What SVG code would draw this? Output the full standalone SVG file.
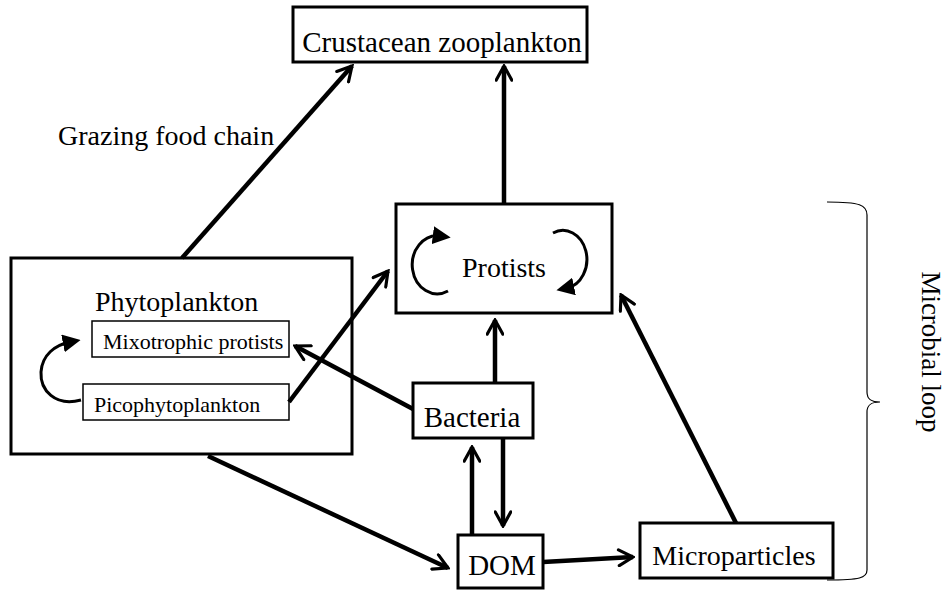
<svg xmlns="http://www.w3.org/2000/svg" width="949" height="591" viewBox="0 0 949 591">
<style>
.box{fill:#fff;stroke:#000;stroke-width:3}
.sbox{fill:#fff;stroke:#000;stroke-width:1.5}
.t{font-family:"Liberation Serif","Times New Roman",serif;fill:#000}
.c{fill:none;stroke:#000;stroke-width:4.5;stroke-linecap:butt}
.loop{fill:none;stroke:#000;stroke-width:3}
.brace{fill:none;stroke:#000;stroke-width:1.2}
</style>
<defs>
<marker id="ah" viewBox="0 0 12 12" refX="10.5" refY="6" markerWidth="4.2" markerHeight="4.2" orient="auto" markerUnits="strokeWidth">
<path d="M1.5,1 L10.5,6 L1.5,11" fill="none" stroke="#000" stroke-width="2" stroke-linecap="round" stroke-linejoin="miter"/>
</marker>
<marker id="tri" viewBox="0 0 10 10" refX="4" refY="5" markerWidth="18" markerHeight="18" orient="auto" markerUnits="userSpaceOnUse">
<path d="M0,0 L10,5 L0,10 Z" fill="#000"/>
</marker>
</defs>

<g id="crustacean">
<rect class="box" x="293" y="7" width="294" height="55"/>
<text class="t" x="442" y="52" font-size="29" text-anchor="middle">Crustacean zooplankton</text>
</g>

<g id="grazing-label">
<text class="t" x="58" y="145" font-size="28">Grazing food chain</text>
</g>

<g id="protists">
<rect class="box" x="396" y="204" width="216" height="109"/>
<text class="t" x="504" y="277" font-size="28" text-anchor="middle">Protists</text>
<path class="loop" d="M448,291 A25,29 0 1 1 440,236" marker-end="url(#tri)"/>
<path class="loop" d="M553,233 A24,29 0 1 1 567,288" marker-end="url(#tri)"/>
</g>

<g id="phytoplankton">
<rect class="box" x="11" y="258" width="341" height="196"/>
<text class="t" x="95" y="311" font-size="28">Phytoplankton</text>
<g id="mixotrophic">
<rect class="sbox" x="92" y="321" width="197" height="36"/>
<text class="t" x="103" y="349" font-size="22">Mixotrophic protists</text>
</g>
<g id="picophytoplankton">
<rect class="sbox" x="83" y="384" width="206" height="36"/>
<text class="t" x="94" y="412" font-size="22">Picophytoplankton</text>
</g>
<path class="loop" d="M81,400 C55,407 40,390 41,372 C42,355 55,345 70,342" marker-end="url(#tri)"/>
</g>

<g id="bacteria">
<rect class="box" x="413" y="383" width="120" height="55"/>
<text class="t" x="472" y="427" font-size="29" text-anchor="middle">Bacteria</text>
</g>

<g id="dom">
<rect class="box" x="458" y="535" width="85" height="53"/>
<text class="t" x="502" y="575" font-size="29" text-anchor="middle">DOM</text>
</g>

<g id="microparticles">
<rect class="box" x="640" y="523" width="193" height="55"/>
<text class="t" x="734" y="565" font-size="28" text-anchor="middle">Microparticles</text>
</g>

<g id="microbial-loop">
<path class="brace" d="M827,202 C860,202 867,205 867,215 L867,392 C867,400 872,402 880,402 C872,402 867,404 867,412 L867,570 C867,578 860,580 827,580"/>
<text class="t" x="352" y="-922" font-size="27" text-anchor="middle" transform="rotate(90)">Microbial loop</text>
</g>

<g id="connectors">
<line class="c" x1="182" y1="258" x2="352" y2="66" marker-end="url(#ah)"/>
<line class="c" x1="504" y1="204" x2="504" y2="66" marker-end="url(#ah)"/>
<line class="c" x1="289" y1="402" x2="388" y2="271" marker-end="url(#ah)"/>
<line class="c" x1="413" y1="409" x2="295" y2="346" marker-end="url(#ah)"/>
<line class="c" x1="495" y1="383" x2="495" y2="320" marker-end="url(#ah)"/>
<line class="c" x1="503" y1="438" x2="503" y2="526" marker-end="url(#ah)"/>
<line class="c" x1="472" y1="535" x2="472" y2="447" marker-end="url(#ah)"/>
<line class="c" x1="208" y1="456" x2="448" y2="568" marker-end="url(#ah)"/>
<line class="c" x1="543" y1="562" x2="633" y2="557" marker-end="url(#ah)"/>
<line class="c" x1="736" y1="523" x2="621" y2="295" marker-end="url(#ah)"/>
</g>
</svg>
